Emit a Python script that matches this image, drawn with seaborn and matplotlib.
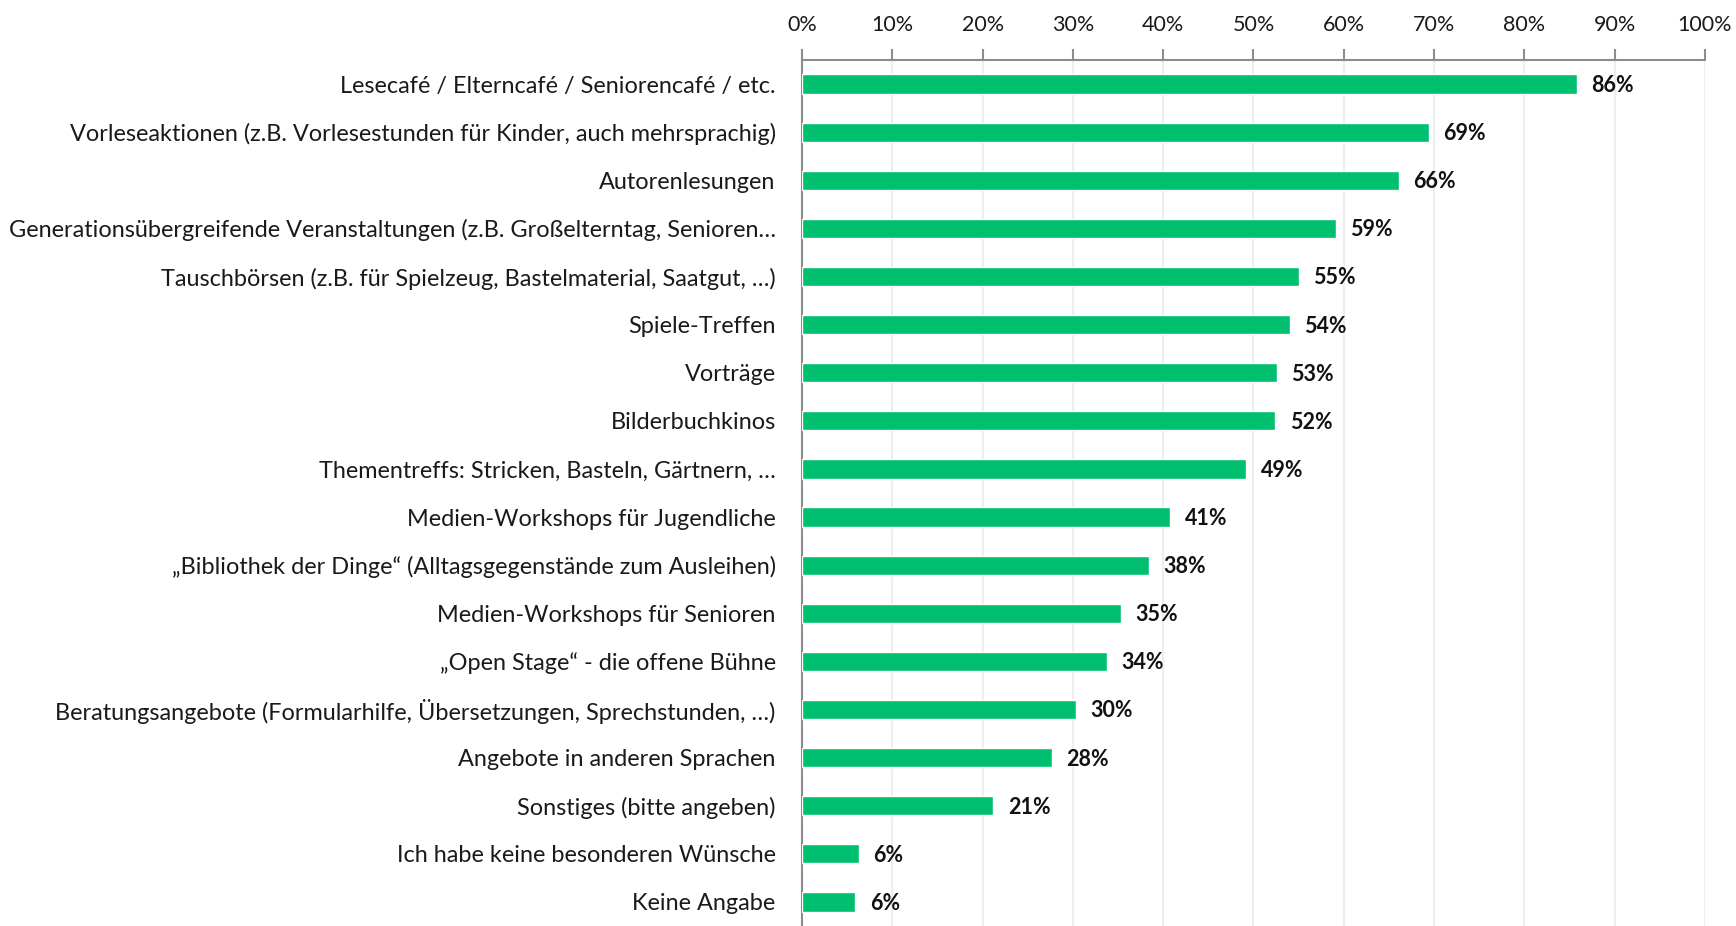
import matplotlib
matplotlib.use("Agg")
import matplotlib.pyplot as plt
import seaborn as sns
import pandas as pd

kategorien = [
    "Lesecafé / Elterncafé / Seniorencafé / etc.",
    "Vorleseaktionen (z.B. Vorlesestunden für Kinder, auch mehrsprachig)",
    "Autorenlesungen",
    "Generationsübergreifende Veranstaltungen (z.B. Großelterntag, Senioren…",
    "Tauschbörsen (z.B. für Spielzeug, Bastelmaterial, Saatgut, …)",
    "Spiele-Treffen",
    "Vorträge",
    "Bilderbuchkinos",
    "Thementreffs: Stricken, Basteln, Gärtnern, …",
    "Medien-Workshops für Jugendliche",
    "„Bibliothek der Dinge“ (Alltagsgegenstände zum Ausleihen)",
    "Medien-Workshops für Senioren",
    "„Open Stage“ - die offene Bühne",
    "Beratungsangebote (Formularhilfe, Übersetzungen, Sprechstunden, …)",
    "Angebote in anderen Sprachen",
    "Sonstiges (bitte angeben)",
    "Ich habe keine besonderen Wünsche",
    "Keine Angabe",
]
werte = [85.8, 69.4, 66.1, 59.1, 55.0, 54.0, 52.6, 52.4, 49.2, 40.8, 38.4, 35.3, 33.8, 30.3, 27.7, 21.2, 6.3, 5.9]
x_ticks = [0, 10, 20, 30, 40, 50, 60, 70, 80, 90, 100]

df = pd.DataFrame({"kategorie": kategorien, "wert": werte})

sns.set_style("white")
plt.rcParams["font.family"] = ["Lato", "DejaVu Sans"]

fig = plt.figure(figsize=(17.36, 9.26), dpi=100)
ax = fig.add_axes([0.4620, 0.0, 0.9821 - 0.4620, 0.9352])

sns.barplot(data=df, y="kategorie", x="wert", orient="h", color="#00BF6F",
            width=0.4, saturation=1, ax=ax, zorder=3)

# Werte an die Balken schreiben
for i, v in enumerate(werte):
    ax.text(v + 1.6, i + 0.03, f"{round(v)}%", va="center", ha="left",
            fontsize=15.5, fontweight="bold", color="#111111")

ax.set_xlim(0, 100)
ax.set_ylim(17.39, -0.5)
ax.set_xlabel("")
ax.set_ylabel("")

ax.xaxis.tick_top()
ax.set_xticks(x_ticks)
ax.set_xticklabels([f"{t}%" for t in x_ticks], fontsize=15.5, color="#1a1a1a")
ax.tick_params(axis="x", which="major", length=8, width=1.5, color="#8c8c8c",
               pad=10, direction="out")
ax.grid(axis="x", color="#eeeeee", linewidth=1.5, zorder=0)
ax.grid(axis="y", visible=False)

ax.set_yticks(range(len(kategorien)))
ax.set_yticklabels(kategorien, fontsize=16.9, color="#1a1a1a")
ax.set_yticks([i - 0.5 for i in range(len(kategorien) + 1)], minor=True)
ax.tick_params(axis="y", which="major", length=0, pad=19)
ax.tick_params(axis="y", which="minor", length=8, width=1.5, color="#8c8c8c",
               direction="out")

for s in ["right", "bottom"]:
    ax.spines[s].set_visible(False)
for s in ["top", "left"]:
    ax.spines[s].set_color("#8c8c8c")
    ax.spines[s].set_linewidth(1.5)

fig.savefig("out.png", dpi=100)
